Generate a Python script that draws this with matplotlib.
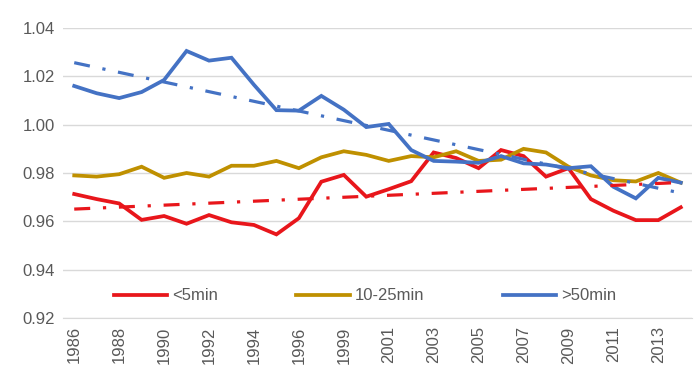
import matplotlib
matplotlib.use("Agg")
import matplotlib.pyplot as plt
import numpy as np

years = [1986, 1987, 1988, 1989, 1990, 1991, 1992, 1993, 1994, 1995, 1996, 1998,
         1999, 2000, 2001, 2002, 2003, 2004, 2005, 2006, 2007, 2008, 2009, 2010,
         2011, 2012, 2013, 2014]

under5 = [0.9713, 0.9692, 0.9674, 0.9606, 0.9622, 0.9590, 0.9626, 0.9596, 0.9585, 0.9546,
          0.9613, 0.9764, 0.9792, 0.9702, 0.9733, 0.9766, 0.9885, 0.9862, 0.9820, 0.9895,
          0.9870, 0.9785, 0.9820, 0.9692, 0.9644, 0.9605, 0.9605, 0.9658]

mid10_25 = [0.9790, 0.9785, 0.9795, 0.9826, 0.9780, 0.9800, 0.9785, 0.9830, 0.9830, 0.9850,
            0.9820, 0.9865, 0.9890, 0.9875, 0.9850, 0.9870, 0.9865, 0.9890, 0.9850, 0.9855,
            0.9900, 0.9885, 0.9826, 0.9790, 0.9770, 0.9765, 0.9800, 0.9760]

over50 = [1.0160, 1.0130, 1.0110, 1.0135, 1.0185, 1.0305, 1.0265, 1.0277, 1.0165, 1.0060,
          1.0058, 1.0119, 1.0062, 0.9990, 1.0003, 0.9895, 0.9850, 0.9847, 0.9842, 0.9870,
          0.9840, 0.9835, 0.9820, 0.9828, 0.9743, 0.9695, 0.9780, 0.9760]

labels = ["<5min", "10-25min", ">50min"]
colors = ["#E8161B", "#BF9000", "#4472C4"]

fig = plt.figure(figsize=(7, 3.92), dpi=100)
ax = fig.add_axes([63/700, 1-318/392, (692-63)/700, (318-28)/392])

x = np.arange(len(years))
series = [under5, mid10_25, over50]
for vals, lab, c in zip(series, labels, colors):
    ax.plot(x, vals, color=c, lw=2.7, label=lab, solid_joinstyle="miter", zorder=3)

trend_style = (0, (5, 4, 1, 4))
for vals, c in [(under5, colors[0]), (over50, colors[2])]:
    p = np.polyfit(x, vals, 1)
    ax.plot(x, np.polyval(p, x), color=c, lw=2.3, linestyle=trend_style,
            dash_capstyle="butt", zorder=4)

ax.set_xlim(-0.5, len(years) - 0.5)
ax.set_ylim(0.92, 1.04)
ax.set_yticks(np.arange(0.92, 1.0401, 0.02))
ax.set_yticklabels([f"{v:.2f}" for v in np.arange(0.92, 1.0401, 0.02)])
ax.set_xticks(x[::2])
ax.set_xticklabels([str(years[i]) for i in x[::2]], rotation=90)

ax.grid(axis="y", color="#D9D9D9", lw=1)
ax.set_axisbelow(True)
for s in ["top", "right", "left"]:
    ax.spines[s].set_visible(False)
ax.spines["bottom"].set_color("#D9D9D9")
ax.tick_params(length=0, labelsize=12, colors="#595959", pad=6)
for t in ax.get_xticklabels() + ax.get_yticklabels():
    t.set_fontfamily("Liberation Sans")

leg = fig.legend(loc="center", bbox_to_anchor=(365/700, 1-296/392), ncol=3,
                 frameon=False, handlelength=3.2, handletextpad=0.3,
                 columnspacing=4.7, prop={"family": "Liberation Sans", "size": 12})
for t in leg.get_texts():
    t.set_color("#595959")

fig.savefig("out.png", dpi=100)
